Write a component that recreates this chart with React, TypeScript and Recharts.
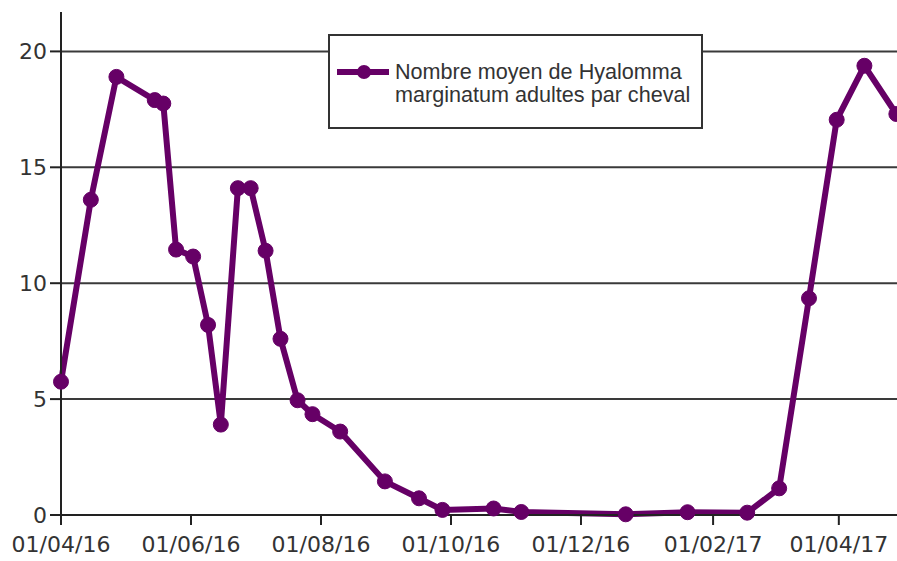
import React from 'react';
import { LineChart, Line, XAxis, YAxis, CartesianGrid, Legend } from 'recharts';

const sampleDates = [
  '2016-04-01', '2016-04-15', '2016-04-27', '2016-05-15', '2016-05-19', '2016-05-25',
  '2016-06-02', '2016-06-09', '2016-06-15', '2016-06-23', '2016-06-29', '2016-07-06',
  '2016-07-13', '2016-07-21', '2016-07-28', '2016-08-10', '2016-08-31', '2016-09-16',
  '2016-09-27', '2016-10-21', '2016-11-03', '2016-12-22', '2017-01-20', '2017-02-17',
  '2017-03-04', '2017-03-18', '2017-03-31', '2017-04-13', '2017-04-28',
];
const meanTicksPerHorse = [
  5.75, 13.6, 18.9, 17.9, 17.75, 11.45,
  11.15, 8.2, 3.9, 14.1, 14.1, 11.4,
  7.6, 4.95, 4.35, 3.6, 1.45, 0.72,
  0.22, 0.28, 0.13, 0.03, 0.12, 0.1,
  1.15, 9.35, 17.05, 19.38, 17.3,
];
const xTickDates = ['2016-04-01', '2016-06-01', '2016-08-01', '2016-10-01', '2016-12-01', '2017-02-01', '2017-04-01'];
const yTicks = [0, 5, 10, 15, 20];
const seriesName = 'Nombre moyen de Hyalomma marginatum adultes par cheval';
const legendLines = ['Nombre moyen de Hyalomma', 'marginatum adultes par cheval'];
const domainStart = '2016-04-01';
const domainEnd = '2017-04-28';

const DAY = 86400000;
const toTs = (s: string) => {
  const [y, m, d] = s.split('-').map(Number);
  return Date.UTC(y, m - 1, d);
};
const pad = (n: number) => (n < 10 ? '0' + n : String(n));
const fmt = (t: number) => {
  const d = new Date(t);
  return `${pad(d.getUTCDate())}/${pad(d.getUTCMonth() + 1)}/${String(d.getUTCFullYear()).slice(2)}`;
};

const data = sampleDates.map((s, i) => ({ t: toTs(s), v: meanTicksPerHorse[i] }));
const xTicks = xTickDates.map(toTs);

const COLOR = '#660066';

const renderLegend = () => (
  <div
    style={{
      position: 'relative',
      width: 375,
      height: 95,
      boxSizing: 'border-box',
      border: '2px solid #333',
      background: '#fff',
    }}
  >
    <svg width={56} height={20} style={{ position: 'absolute', left: 7, top: 26 }}>
      <line x1={0} y1={10} x2={52} y2={10} stroke={COLOR} strokeWidth={6} />
      <circle cx={27} cy={10} r={7} fill={COLOR} />
    </svg>
    <div
      style={{
        position: 'absolute',
        left: 65,
        top: 24,
        fontFamily: '"Liberation Sans", Arial, sans-serif',
        fontSize: 21.6,
        lineHeight: '23px',
        color: '#333',
        whiteSpace: 'nowrap',
      }}
    >
      {legendLines.map((l) => (
        <div key={l}>{l}</div>
      ))}
    </div>
  </div>
);

export default function App() {
  return (
    <div style={{ position: 'fixed', left: 0, top: 0, width: 897, height: 561, overflow: 'hidden', background: '#fff' }}>
      <LineChart width={897} height={561} data={data} margin={{ top: 12, right: 0, bottom: 0, left: 0 }}>
        <CartesianGrid
          horizontal
          vertical={false}
          horizontalValues={yTicks}
          stroke="#3a3a3a"
          strokeWidth={2}
        />
        <XAxis
          dataKey="t"
          type="number"
          domain={[toTs(domainStart), toTs(domainEnd) + 0.3 * DAY]}
          ticks={xTicks}
          interval={0}
          tickFormatter={fmt}
          height={46}
          tickSize={10}
          tickMargin={11}
          tick={{ fontFamily: '"DejaVu Sans", sans-serif', fontSize: 22, fill: '#333' }}
          axisLine={{ stroke: '#222', strokeWidth: 2 }}
          tickLine={{ stroke: '#222', strokeWidth: 2 }}
        />
        <YAxis
          type="number"
          domain={[0, 21.7]}
          ticks={yTicks}
          interval={0}
          width={61}
          tickSize={11}
          tickMargin={3}
          tick={{ fontFamily: '"DejaVu Sans", sans-serif', fontSize: 22, fill: '#333' }}
          axisLine={{ stroke: '#222', strokeWidth: 2 }}
          tickLine={{ stroke: '#222', strokeWidth: 2 }}
        />
        <Legend
          layout="horizontal"
          verticalAlign="middle"
          align="center"
          content={renderLegend}
          wrapperStyle={{ left: 328, top: 34, width: 375, height: 95 }}
        />
        <Line
          type="linear"
          dataKey="v"
          name={seriesName}
          stroke={COLOR}
          strokeWidth={6}
          dot={{ r: 7.5, fill: COLOR, stroke: COLOR, strokeWidth: 1 }}
          activeDot={false}
          isAnimationActive={false}
        />
      </LineChart>
    </div>
  );
}
